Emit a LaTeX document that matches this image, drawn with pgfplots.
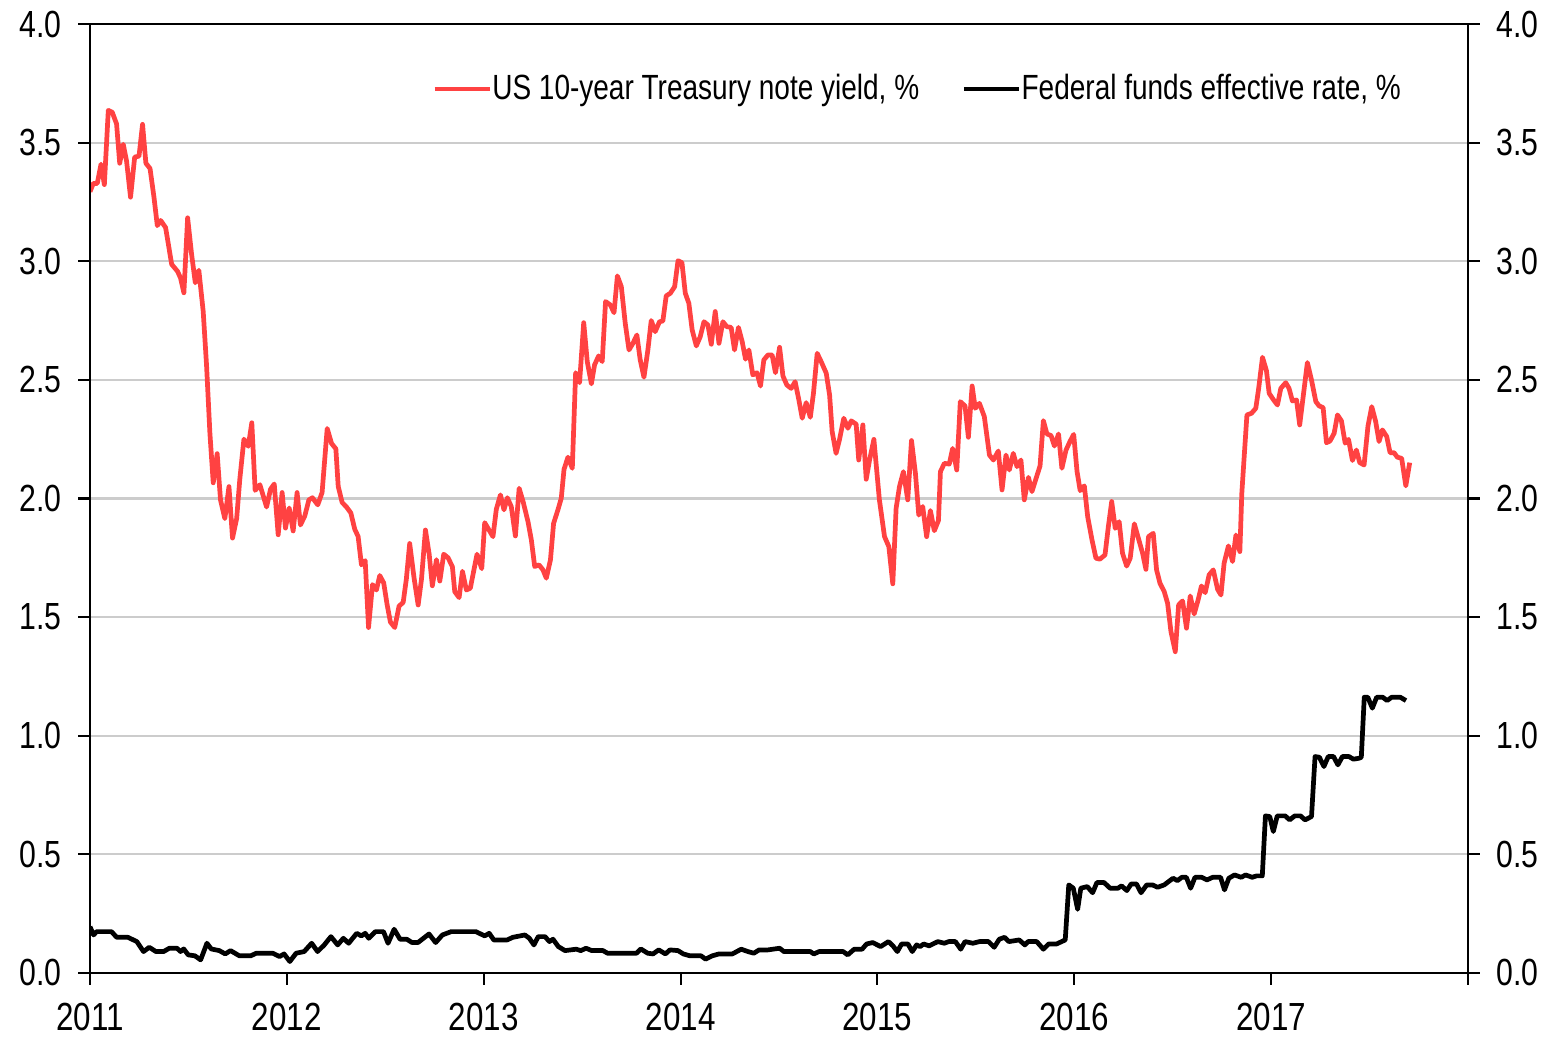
\documentclass[border=0pt]{standalone}
\usepackage{fontspec}
\setmainfont{Liberation Sans}[FakeStretch=0.8]
\usepackage{pgfplots}
\pgfplotsset{compat=1.18}
\definecolor{tsyred}{HTML}{FF4242}
\definecolor{gridgray}{HTML}{CCCCCC}

\pgfplotsset{
  rateaxis/.style={
    width=393.7pt, height=271.1pt, scale only axis,
    xmin=2011, xmax=2018, ymin=0, ymax=4,
    ytick={0,0.5,1,1.5,2,2.5,3,3.5,4},
    tick align=outside, major tick length=3.4pt,
    tick style={line width=0.6pt, black},
    axis line style={line width=0.6pt},
    /pgf/number format/assume math mode=true,
    tick label style={font=\fontsize{10.8}{12}\selectfont},
    yticklabel style={/pgf/number format/fixed, /pgf/number format/fixed zerofill,
      /pgf/number format/precision=1},
  },
}

\begin{document}
\begin{tikzpicture}
\begin{axis}[rateaxis,
  xtick={2011,2012,2013,2014,2015,2016,2017,2018},
  xticklabels={2011,2012,2013,2014,2015,2016,2017,{}},
  xticklabel style={font=\fontsize{11.2}{12}\selectfont, yshift=-1.7pt},
  yticklabel style={xshift=-1.2pt},
  xtick pos=left, ytick pos=left,
  ymajorgrids, grid style={gridgray, line width=0.6pt},
  legend columns=2,
  legend style={draw=none, fill=none, at={(0.9518,0.9315)}, anchor=east,
    font=\fontsize{10}{12}\selectfont, inner sep=0pt,
    nodes={inner xsep=0pt, inner ysep=1pt},
    /tikz/every even column/.append style={column sep=12.1pt}},
  legend image code/.code={\draw[#1] (0pt,0pt) -- (15.8pt,0pt);},
]
% US 10-year Treasury note yield
\addplot[tsyred, line width=1.35pt, line join=round] table {
2011.000 3.293
2011.017 3.328
2011.037 3.328
2011.056 3.409
2011.073 3.323
2011.093 3.636
2011.113 3.628
2011.135 3.579
2011.151 3.413
2011.169 3.493
2011.186 3.421
2011.206 3.270
2011.227 3.439
2011.249 3.443
2011.267 3.577
2011.284 3.413
2011.305 3.391
2011.325 3.270
2011.342 3.150
2011.359 3.172
2011.384 3.142
2011.415 2.987
2011.445 2.957
2011.460 2.929
2011.477 2.867
2011.496 3.183
2011.516 3.030
2011.535 2.909
2011.553 2.962
2011.575 2.789
2011.592 2.563
2011.609 2.277
2011.626 2.066
2011.646 2.189
2011.663 1.994
2011.685 1.915
2011.706 2.050
2011.724 1.833
2011.745 1.915
2011.761 2.081
2011.782 2.250
2011.804 2.220
2011.822 2.319
2011.839 2.034
2011.863 2.058
2011.897 1.964
2011.917 2.039
2011.936 2.061
2011.956 1.847
2011.976 2.025
2011.993 1.875
2012.012 1.960
2012.032 1.863
2012.052 2.025
2012.069 1.888
2012.091 1.926
2012.112 1.994
2012.130 2.003
2012.157 1.973
2012.179 2.025
2012.205 2.295
2012.227 2.232
2012.249 2.209
2012.261 2.050
2012.281 1.983
2012.303 1.964
2012.325 1.939
2012.345 1.870
2012.362 1.840
2012.379 1.720
2012.398 1.738
2012.415 1.456
2012.435 1.637
2012.455 1.614
2012.472 1.675
2012.492 1.644
2012.509 1.554
2012.526 1.479
2012.548 1.456
2012.570 1.546
2012.591 1.562
2012.607 1.660
2012.624 1.810
2012.646 1.666
2012.667 1.551
2012.684 1.660
2012.704 1.867
2012.723 1.765
2012.739 1.632
2012.760 1.742
2012.777 1.652
2012.797 1.765
2012.819 1.750
2012.841 1.712
2012.853 1.607
2012.875 1.582
2012.892 1.693
2012.912 1.614
2012.932 1.622
2012.966 1.765
2012.990 1.704
2013.005 1.898
2013.022 1.874
2013.047 1.839
2013.064 1.954
2013.085 2.015
2013.103 1.952
2013.120 2.003
2013.140 1.966
2013.161 1.842
2013.180 2.043
2013.200 1.987
2013.225 1.902
2013.242 1.825
2013.259 1.713
2013.281 1.720
2013.301 1.699
2013.318 1.664
2013.339 1.741
2013.355 1.895
2013.377 1.952
2013.394 2.001
2013.408 2.123
2013.428 2.174
2013.450 2.127
2013.467 2.530
2013.487 2.488
2013.508 2.741
2013.526 2.577
2013.547 2.483
2013.563 2.563
2013.584 2.601
2013.602 2.577
2013.619 2.830
2013.643 2.816
2013.662 2.783
2013.679 2.938
2013.699 2.893
2013.719 2.738
2013.738 2.626
2013.758 2.654
2013.778 2.689
2013.795 2.584
2013.814 2.511
2013.834 2.626
2013.851 2.750
2013.871 2.703
2013.893 2.745
2013.910 2.748
2013.927 2.854
2013.948 2.865
2013.970 2.893
2013.987 3.002
2014.007 2.994
2014.024 2.865
2014.042 2.823
2014.059 2.710
2014.080 2.643
2014.100 2.682
2014.119 2.745
2014.139 2.731
2014.156 2.650
2014.176 2.788
2014.195 2.654
2014.215 2.745
2014.235 2.724
2014.257 2.721
2014.274 2.626
2014.294 2.721
2014.313 2.661
2014.330 2.587
2014.347 2.626
2014.367 2.521
2014.388 2.530
2014.406 2.474
2014.423 2.584
2014.444 2.605
2014.465 2.605
2014.482 2.530
2014.503 2.637
2014.520 2.516
2014.540 2.478
2014.562 2.464
2014.582 2.492
2014.601 2.415
2014.618 2.338
2014.638 2.404
2014.659 2.342
2014.675 2.443
2014.694 2.612
2014.714 2.577
2014.740 2.528
2014.757 2.436
2014.770 2.282
2014.790 2.190
2014.807 2.247
2014.829 2.338
2014.850 2.296
2014.867 2.327
2014.892 2.313
2014.905 2.162
2014.926 2.310
2014.943 2.081
2014.960 2.162
2014.982 2.249
2015.010 1.994
2015.036 1.839
2015.058 1.797
2015.078 1.640
2015.095 1.959
2015.112 2.050
2015.132 2.113
2015.154 1.994
2015.173 2.244
2015.193 2.106
2015.210 1.930
2015.230 1.966
2015.250 1.839
2015.269 1.949
2015.289 1.864
2015.310 1.907
2015.320 2.113
2015.340 2.148
2015.365 2.145
2015.382 2.211
2015.403 2.120
2015.421 2.408
2015.445 2.390
2015.462 2.258
2015.481 2.474
2015.497 2.380
2015.518 2.401
2015.543 2.345
2015.569 2.183
2015.589 2.162
2015.614 2.200
2015.633 2.036
2015.653 2.183
2015.670 2.120
2015.690 2.190
2015.709 2.134
2015.729 2.162
2015.746 1.994
2015.767 2.089
2015.785 2.029
2015.806 2.085
2015.826 2.137
2015.843 2.328
2015.861 2.272
2015.882 2.265
2015.899 2.221
2015.920 2.272
2015.937 2.127
2015.958 2.204
2015.978 2.240
2015.997 2.270
2016.014 2.113
2016.030 2.033
2016.051 2.053
2016.068 1.923
2016.090 1.825
2016.110 1.748
2016.130 1.744
2016.156 1.762
2016.173 1.881
2016.190 1.987
2016.208 1.874
2016.228 1.902
2016.245 1.769
2016.266 1.715
2016.284 1.748
2016.305 1.893
2016.327 1.828
2016.347 1.769
2016.364 1.701
2016.377 1.839
2016.401 1.853
2016.418 1.699
2016.435 1.643
2016.457 1.607
2016.474 1.558
2016.491 1.439
2016.513 1.354
2016.530 1.551
2016.550 1.568
2016.570 1.453
2016.589 1.589
2016.609 1.513
2016.629 1.572
2016.646 1.631
2016.665 1.603
2016.685 1.678
2016.706 1.699
2016.728 1.617
2016.745 1.593
2016.761 1.727
2016.783 1.800
2016.804 1.734
2016.821 1.846
2016.841 1.776
2016.851 2.022
2016.863 2.176
2016.877 2.352
2016.900 2.359
2016.922 2.380
2016.936 2.460
2016.956 2.595
2016.976 2.539
2016.990 2.443
2017.010 2.418
2017.032 2.394
2017.049 2.464
2017.074 2.488
2017.091 2.464
2017.108 2.411
2017.129 2.415
2017.145 2.310
2017.184 2.573
2017.205 2.499
2017.227 2.408
2017.244 2.390
2017.264 2.383
2017.281 2.235
2017.299 2.242
2017.320 2.275
2017.337 2.352
2017.357 2.327
2017.376 2.233
2017.393 2.249
2017.413 2.160
2017.433 2.204
2017.450 2.151
2017.472 2.141
2017.492 2.306
2017.511 2.387
2017.531 2.324
2017.548 2.240
2017.565 2.289
2017.587 2.261
2017.604 2.193
2017.624 2.193
2017.641 2.174
2017.663 2.169
2017.684 2.053
2017.704 2.151
};
\addlegendentry{US 10-year Treasury note yield, \%}
% Federal funds effective rate
\addplot[black, line width=1.35pt, line join=round] table {
2011.000 0.195
2011.018 0.160
2011.034 0.174
2011.109 0.174
2011.136 0.150
2011.193 0.150
2011.238 0.132
2011.272 0.090
2011.301 0.108
2011.335 0.090
2011.374 0.090
2011.403 0.104
2011.442 0.104
2011.460 0.090
2011.476 0.101
2011.499 0.076
2011.533 0.072
2011.562 0.055
2011.594 0.125
2011.616 0.101
2011.657 0.094
2011.687 0.080
2011.714 0.094
2011.759 0.072
2011.816 0.072
2011.845 0.083
2011.929 0.083
2011.963 0.069
2011.986 0.080
2012.015 0.048
2012.047 0.083
2012.088 0.090
2012.126 0.125
2012.156 0.090
2012.190 0.118
2012.224 0.153
2012.258 0.118
2012.287 0.146
2012.314 0.125
2012.355 0.167
2012.378 0.156
2012.398 0.167
2012.416 0.146
2012.450 0.174
2012.491 0.174
2012.514 0.125
2012.545 0.184
2012.575 0.142
2012.609 0.142
2012.636 0.128
2012.666 0.128
2012.722 0.164
2012.756 0.128
2012.790 0.160
2012.835 0.174
2012.960 0.174
2013.005 0.156
2013.028 0.167
2013.051 0.139
2013.119 0.139
2013.148 0.150
2013.209 0.160
2013.232 0.146
2013.255 0.118
2013.277 0.153
2013.311 0.153
2013.334 0.132
2013.352 0.142
2013.379 0.111
2013.413 0.094
2013.470 0.100
2013.493 0.094
2013.520 0.104
2013.549 0.094
2013.606 0.094
2013.629 0.083
2013.663 0.083
2013.776 0.083
2013.798 0.101
2013.833 0.083
2013.860 0.080
2013.889 0.097
2013.923 0.080
2013.946 0.097
2013.987 0.094
2014.014 0.080
2014.048 0.072
2014.104 0.072
2014.127 0.058
2014.161 0.072
2014.195 0.080
2014.263 0.080
2014.308 0.100
2014.342 0.090
2014.372 0.083
2014.399 0.097
2014.444 0.097
2014.503 0.104
2014.525 0.090
2014.659 0.090
2014.677 0.080
2014.704 0.090
2014.826 0.090
2014.849 0.076
2014.882 0.100
2014.922 0.100
2014.945 0.122
2014.976 0.128
2015.016 0.111
2015.056 0.132
2015.079 0.114
2015.101 0.090
2015.123 0.122
2015.155 0.122
2015.177 0.090
2015.199 0.118
2015.217 0.111
2015.235 0.122
2015.262 0.114
2015.307 0.132
2015.340 0.125
2015.362 0.132
2015.396 0.132
2015.423 0.100
2015.445 0.132
2015.485 0.125
2015.519 0.132
2015.564 0.132
2015.593 0.108
2015.619 0.142
2015.646 0.150
2015.668 0.132
2015.720 0.139
2015.749 0.118
2015.765 0.132
2015.809 0.132
2015.843 0.100
2015.870 0.122
2015.910 0.122
2015.954 0.139
2015.972 0.371
2015.995 0.357
2016.017 0.268
2016.033 0.357
2016.066 0.364
2016.093 0.338
2016.115 0.381
2016.151 0.381
2016.182 0.357
2016.222 0.357
2016.240 0.367
2016.267 0.347
2016.289 0.375
2016.316 0.375
2016.339 0.338
2016.368 0.371
2016.397 0.371
2016.423 0.361
2016.457 0.371
2016.479 0.385
2016.502 0.399
2016.524 0.389
2016.546 0.403
2016.569 0.403
2016.591 0.357
2016.613 0.403
2016.647 0.403
2016.674 0.392
2016.703 0.403
2016.743 0.403
2016.763 0.350
2016.785 0.399
2016.814 0.413
2016.848 0.403
2016.870 0.413
2016.904 0.403
2016.926 0.409
2016.955 0.409
2016.971 0.662
2016.993 0.659
2017.011 0.596
2017.031 0.662
2017.071 0.662
2017.094 0.645
2017.120 0.662
2017.149 0.662
2017.172 0.645
2017.205 0.659
2017.223 0.912
2017.245 0.909
2017.268 0.870
2017.290 0.912
2017.317 0.912
2017.339 0.877
2017.362 0.912
2017.395 0.912
2017.418 0.901
2017.447 0.905
2017.458 0.909
2017.473 1.162
2017.491 1.162
2017.514 1.116
2017.536 1.162
2017.567 1.162
2017.589 1.148
2017.612 1.162
2017.656 1.162
2017.685 1.148
};
\addlegendentry{Federal funds effective rate, \%}
\end{axis}
% right-hand scale
\begin{axis}[rateaxis, xtick=\empty, ytick pos=right, yticklabel pos=right,
  yticklabel style={xshift=1.2pt}]
\end{axis}
\pgfresetboundingbox
\path ([shift={(-25.71pt,-18.57pt)}]current axis.south west) rectangle ([shift={(24.86pt,6.86pt)}]current axis.north east);
\end{tikzpicture}
\end{document}
